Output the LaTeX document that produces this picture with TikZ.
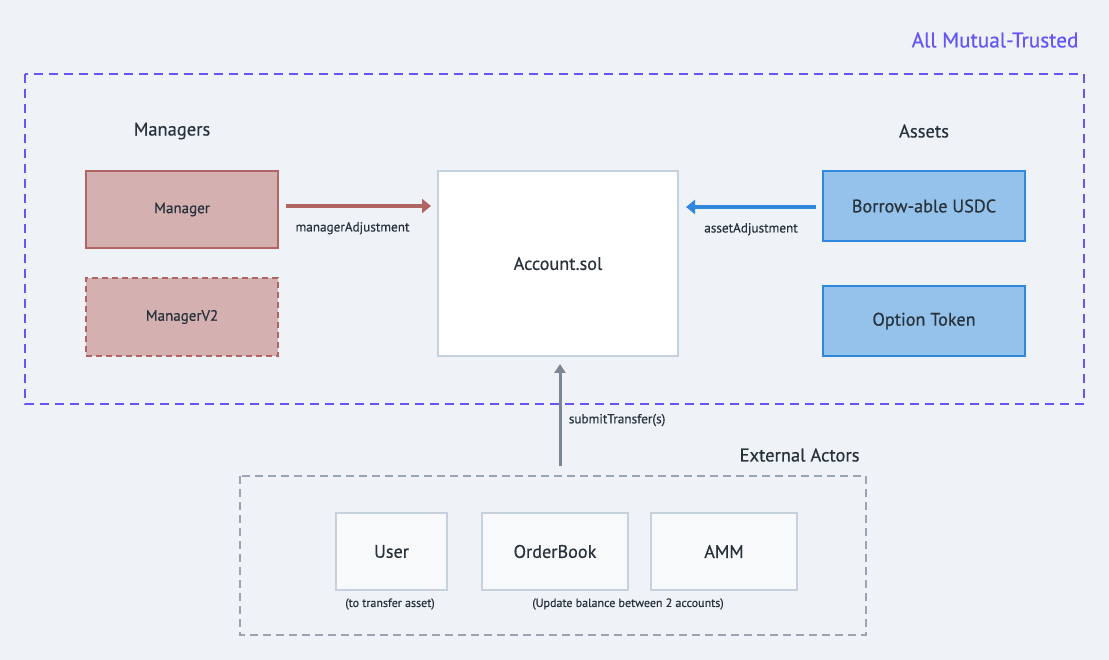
\documentclass[tikz,border=0pt]{standalone}
\usepackage{fontspec}
\setmainfont{PT Sans}[FakeBold=0.5]
\usetikzlibrary{calc,arrows.meta}
\definecolor{bgcol}{HTML}{EFF3F7}
\definecolor{ink}{HTML}{28323C}
\definecolor{trust}{HTML}{6656F4}
\definecolor{mgrfill}{HTML}{D4B0B0}
\definecolor{mgrline}{HTML}{B06464}
\definecolor{assetfill}{HTML}{94C2EA}
\definecolor{assetline}{HTML}{2F88DC}
\definecolor{paleline}{HTML}{C5D1DC}
\definecolor{actorfill}{HTML}{F7F9FB}
\definecolor{greyarrow}{HTML}{7B8794}
\definecolor{greydash}{HTML}{9AA5B1}
\tikzset{
every node/.style={text=ink},
box/.style={draw, line width=2pt, inner sep=0pt},
mgrbox/.style={box, draw=mgrline, fill=mgrfill},
assetbox/.style={box, draw=assetline, fill=assetfill},
actorbox/.style={box, draw=paleline, fill=actorfill},
heading/.style={font=\fontsize{18.5}{22}\selectfont},
boxtext/.style={font=\fontsize{15}{18}\selectfont},
bigtext/.style={font=\fontsize{18.2}{22}\selectfont},
small/.style={font=\fontsize{13.2}{16}\selectfont},
tiny/.style={font=\fontsize{12}{14}\selectfont},
flow/.style={line width=3.5pt, -{Triangle[length=9pt,width=14pt]}}
}
\newcommand{\placebox}[6]{%
\node[#1, minimum width=#5, minimum height=#6] (#2) at (#3,#4) {};
}
\newcommand{\groupframe}[5]{%
\draw[#1] (#2,#3) rectangle (#4,#5);
}

\begin{document}
\begin{tikzpicture}[x=1pt,y=-1pt]

\useasboundingbox (0,0) rectangle (1109,660);
\fill[bgcol] (0,0) rectangle (1109,660);



\groupframe{trust, line width=2pt, dash pattern=on 9pt off 6pt}{25}{74}{1084}{404}
\node[trust, anchor=east, font=\fontsize{21.3}{25}\selectfont] (trusted) at (1082,40) {All Mutual-Trusted};

\node[heading] (managers) at (172,131) {Managers};
\node[heading] (assets) at (924,131) {Assets};



\placebox{mgrbox}{mgr}{182}{209.5}{192}{77}
\node[boxtext] at (mgr) {Manager};

\placebox{mgrbox, dash pattern=on 6pt off 4pt}{mgrtwo}{182}{317}{192}{78}
\node[boxtext] at (mgrtwo) {ManagerV2};

\placebox{box, draw=paleline, fill=white}{acct}{558}{263.5}{240}{185}
\node[bigtext] at (acct) {Account.sol};

\placebox{assetbox}{usdc}{924}{206}{202}{70}
\node[bigtext] at (usdc) {Borrow-able USDC};

\placebox{assetbox}{option}{924}{321}{202}{70}
\node[bigtext] at (option) {Option Token};



\draw[flow, mgrline] ($(mgr.east)+(7,-3.5)$) -- ($(mgr.east -| acct.west)+(-6,-3.5)$)
node[midway, below=11pt, small, xshift=-6pt] (mgradj) {managerAdjustment};

\draw[flow, assetline] ($(usdc.west)+(-6,1)$) -- ($(usdc.west -| acct.east)+(7,1)$)
node[midway, below=11pt, small] (assetadj) {assetAdjustment};



\groupframe{greydash, line width=1.5pt, dash pattern=on 8pt off 5pt}{240}{476}{866}{635}
\node[heading, anchor=east] (external) at (863,455) {External Actors};

\placebox{actorbox}{user}{391.5}{551.5}{111}{77}
\node[bigtext] at (user) {User};

\placebox{actorbox}{book}{555}{551.5}{146}{77}
\node[bigtext] at (book) {OrderBook};

\placebox{actorbox}{amm}{724}{551.5}{146}{77}
\node[bigtext] at (amm) {AMM};

\node[tiny] (userlbl) at (390,604) {(to transfer asset)};
\node[tiny] (booklbl) at (628,604) {(Update balance between 2 accounts)};



\coordinate (sendpt) at (560,466);
\coordinate (sendtip) at ($(acct.south)+(2,7)$);
\draw[greyarrow, line width=3pt, -{Triangle[length=9pt,width=11pt]}] (sendpt) -- (sendtip)
node[pos=0.45, right=4pt, small] (submit) {submitTransfer(s)};


\end{tikzpicture}
\end{document}
